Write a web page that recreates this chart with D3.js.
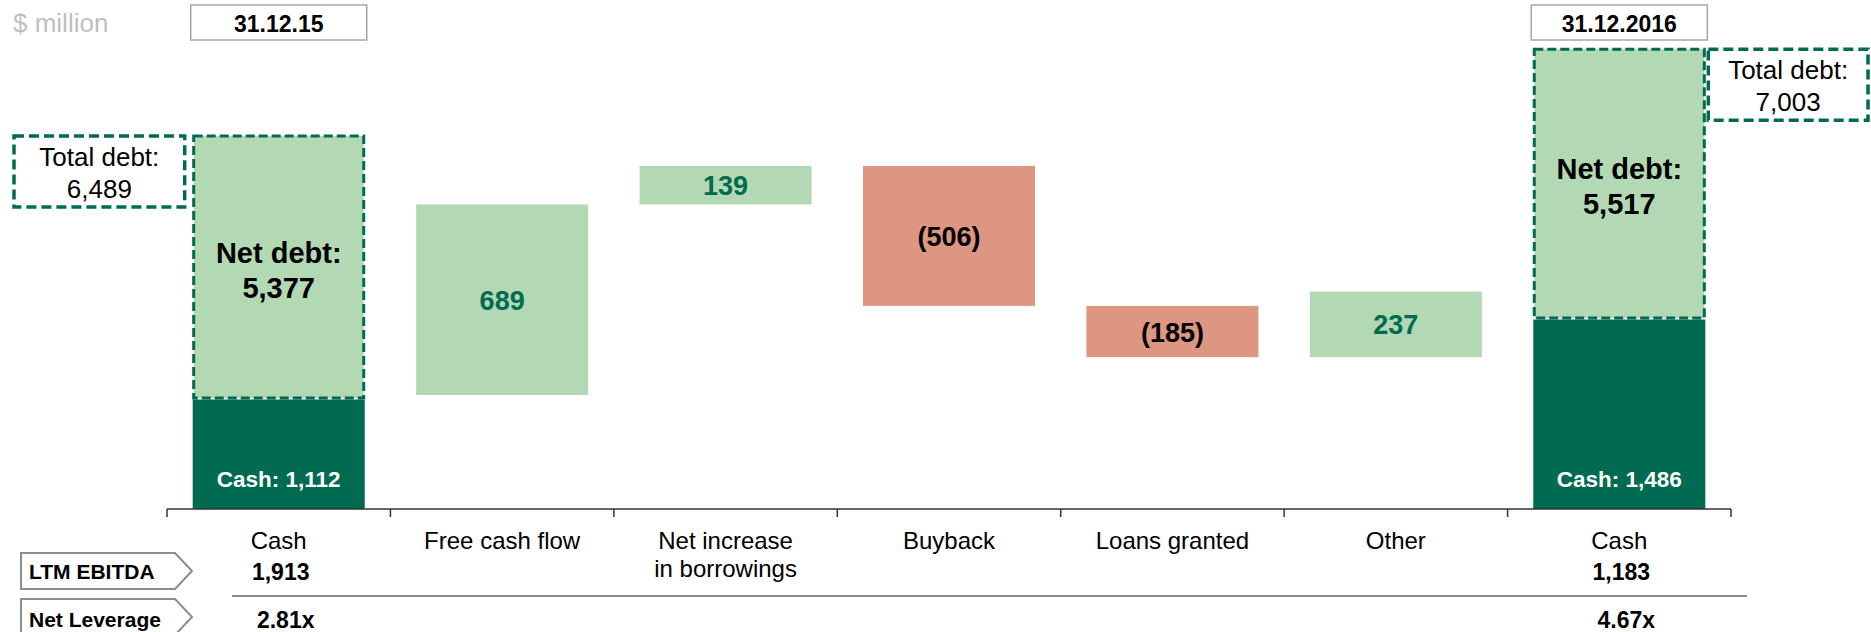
<!DOCTYPE html>
<html>
<head>
<meta charset="utf-8">
<script src="https://cdn.jsdelivr.net/npm/d3@7"></script>
<style>
  html, body { margin: 0; padding: 0; background: #ffffff; }
  svg { display: block; font-family: "Liberation Sans", Arial, Helvetica, sans-serif; }
</style>
</head>
<body>
<svg id="chart" width="1871" height="632"></svg>
<script>
// Cash bridge 31.12.15 -> 31.12.2016, $ million
const categories = ["Cash", "Free cash flow", "Net increase|in borrowings", "Buyback", "Loans granted", "Other", "Cash"];
const flowValues = [689, 139, -506, -185, 237];      // movements between opening and closing cash
const cashBalances = [1112, 1486];                     // opening, closing
const netDebt = [5377, 5517];
const totalDebt = [6489, 7003];
const periodLabels = ["31.12.15", "31.12.2016"];
const ltmEbitda = [1913, 1183];
const netLeverage = [2.81, 4.67];
const rowLabels = ["LTM EBITDA", "Net Leverage"];
const unitLabel = "$ million";

// palette
const DARK = "#006b50";
const LIGHT = "#b3d8b4";
const SALMON = "#dd9681";
const GREY = "#8c8c8c";

const svg = d3.select("#chart");
const axisY = 509;

const x = d3.scaleBand()
  .domain(d3.range(categories.length))
  .range([167, 1731])
  .paddingInner(0.23)
  .paddingOuter(0.115);
const bw = x.bandwidth();

// bridge scale (axis truncated at $700m)
const yFlow = d3.scaleLinear().domain([700, 2540]).range([axisY, 0]);
// cash columns (axis truncated at $600m)
const yCash = d3.scaleLinear().domain([600, 2980]).range([axisY, 0]);
// length scale for the net debt block stacked on top of cash
const debtLen = d3.scaleLinear().domain([0, 10000]).range([0, 490]);

const fmt = d3.format(",");
const fmtFlow = v => v < 0 ? `(${fmt(-v)})` : fmt(v);

// ---- unit label and period boxes ----
svg.append("text").attr("x", 13).attr("y", 32)
  .attr("font-size", 26).attr("fill", "#bfbfbf").text(unitLabel);

const endIdx = [0, categories.length - 1];
endIdx.forEach((ci, k) => {
  const bx = x(ci) - 2;
  svg.append("rect").attr("x", bx).attr("y", 5).attr("width", bw + 4).attr("height", 35)
    .attr("fill", "#fff").attr("stroke", "#a6a6a6").attr("stroke-width", 1.5);
  svg.append("text").attr("x", x(ci) + bw / 2).attr("y", 32)
    .attr("text-anchor", "middle").attr("font-weight", "bold").attr("font-size", 23)
    .attr("fill", "#000").text(periodLabels[k]);
});

// ---- bridge bars ----
let level = cashBalances[0];
const steps = flowValues.map((v, i) => {
  const s = { idx: i + 1, value: v, start: level, end: level + v };
  level += v;
  return s;
});

const g = svg.append("g");
g.selectAll("rect.flow").data(steps).join("rect")
  .attr("class", "flow")
  .attr("x", d => x(d.idx))
  .attr("width", bw)
  .attr("y", d => yFlow(Math.max(d.start, d.end)))
  .attr("height", d => Math.abs(yFlow(d.start) - yFlow(d.end)))
  .attr("fill", d => d.value >= 0 ? LIGHT : SALMON);

g.selectAll("text.flow").data(steps).join("text")
  .attr("class", "flow")
  .attr("x", d => x(d.idx) + bw / 2)
  .attr("y", d => (yFlow(d.start) + yFlow(d.end)) / 2 + 10)
  .attr("text-anchor", "middle")
  .attr("font-weight", "bold").attr("font-size", 27)
  .attr("fill", d => d.value >= 0 ? DARK : "#000")
  .text(d => fmtFlow(d.value));

// ---- opening / closing columns: cash + net debt = total debt ----
endIdx.forEach((ci, k) => {
  const bx = x(ci);
  const cashTop = yCash(cashBalances[k]);
  const ndH = debtLen(netDebt[k]);
  const ndTop = cashTop - ndH;

  svg.append("rect").attr("x", bx).attr("y", cashTop).attr("width", bw)
    .attr("height", axisY - cashTop).attr("fill", DARK);
  svg.append("rect").attr("x", bx + 1).attr("y", ndTop).attr("width", bw - 2)
    .attr("height", ndH - 1.5).attr("fill", LIGHT)
    .attr("stroke", DARK).attr("stroke-width", 3).attr("stroke-dasharray", "9,4");

  svg.append("text").attr("x", bx + bw / 2).attr("y", axisY - 22)
    .attr("text-anchor", "middle").attr("font-weight", "bold").attr("font-size", 22.5)
    .attr("fill", "#fff").text(`Cash: ${fmt(cashBalances[k])}`);

  const mid = (ndTop + cashTop) / 2;
  const nd = svg.append("text").attr("text-anchor", "middle")
    .attr("font-weight", "bold").attr("font-size", 29).attr("fill", "#000");
  nd.append("tspan").attr("x", bx + bw / 2).attr("y", mid - 5).text("Net debt:");
  nd.append("tspan").attr("x", bx + bw / 2).attr("y", mid + 30).text(fmt(netDebt[k]));

  // total debt call-out beside the column
  const boxX = k === 0 ? 14 : bx + bw + 3;
  const boxW = k === 0 ? bx - 8 - 14 : 1868 - (bx + bw + 3);
  const boxY = ndTop;
  svg.append("rect").attr("x", boxX).attr("y", boxY).attr("width", boxW).attr("height", 71)
    .attr("fill", "#fff").attr("stroke", DARK).attr("stroke-width", 3.5)
    .attr("stroke-dasharray", "10,5");
  const td = svg.append("text").attr("text-anchor", "middle")
    .attr("font-size", 26).attr("fill", "#000");
  td.append("tspan").attr("x", boxX + boxW / 2).attr("y", boxY + 30).text("Total debt:");
  td.append("tspan").attr("x", boxX + boxW / 2).attr("y", boxY + 62).text(fmt(totalDebt[k]));
});

// ---- category axis ----
const axis = svg.append("g").attr("stroke", "#333").attr("stroke-width", 1.5);
axis.append("line").attr("x1", x.range()[0]).attr("x2", x.range()[1])
  .attr("y1", axisY).attr("y2", axisY);
const tickXs = d3.range(categories.length + 1).map(i => x.range()[0] + i * x.step());
axis.selectAll("line.tick").data(tickXs).join("line").attr("class", "tick")
  .attr("x1", d => d).attr("x2", d => d).attr("y1", axisY).attr("y2", axisY + 8);

categories.forEach((c, i) => {
  const t = svg.append("text").attr("text-anchor", "middle")
    .attr("font-size", 24).attr("fill", "#000");
  c.split("|").forEach((line, j) => {
    t.append("tspan").attr("x", x(i) + bw / 2).attr("y", 549 + j * 28).text(line);
  });
});

// ---- metric rows ----
const rowBaselines = [580, 628];
const rowBoxTop = [553, 599];
rowLabels.forEach((lab, r) => {
  const top = rowBoxTop[r], h = 36;
  const p = d3.path();
  p.moveTo(21, top); p.lineTo(175, top); p.lineTo(192, top + h / 2);
  p.lineTo(175, top + h); p.lineTo(21, top + h); p.closePath();
  svg.append("path").attr("d", p.toString()).attr("fill", "#fff")
    .attr("stroke", GREY).attr("stroke-width", 2);
  svg.append("text").attr("x", 29).attr("y", rowBaselines[r] - 1)
    .attr("font-weight", "bold").attr("font-size", 21).attr("fill", "#000").text(lab);
});

svg.append("line").attr("x1", 232).attr("x2", 1747).attr("y1", 596).attr("y2", 596)
  .attr("stroke", GREY).attr("stroke-width", 2);

endIdx.forEach((ci, k) => {
  const cx = x(ci) + bw / 2;
  svg.append("text").attr("x", cx + 2).attr("y", rowBaselines[0])
    .attr("text-anchor", "middle").attr("font-weight", "bold").attr("font-size", 23)
    .attr("fill", "#000").text(fmt(ltmEbitda[k]));
  svg.append("text").attr("x", cx + 7).attr("y", rowBaselines[1])
    .attr("text-anchor", "middle").attr("font-weight", "bold").attr("font-size", 23)
    .attr("fill", "#000").text(d3.format(".2f")(netLeverage[k]) + "x");
});
</script>
</body>
</html>
